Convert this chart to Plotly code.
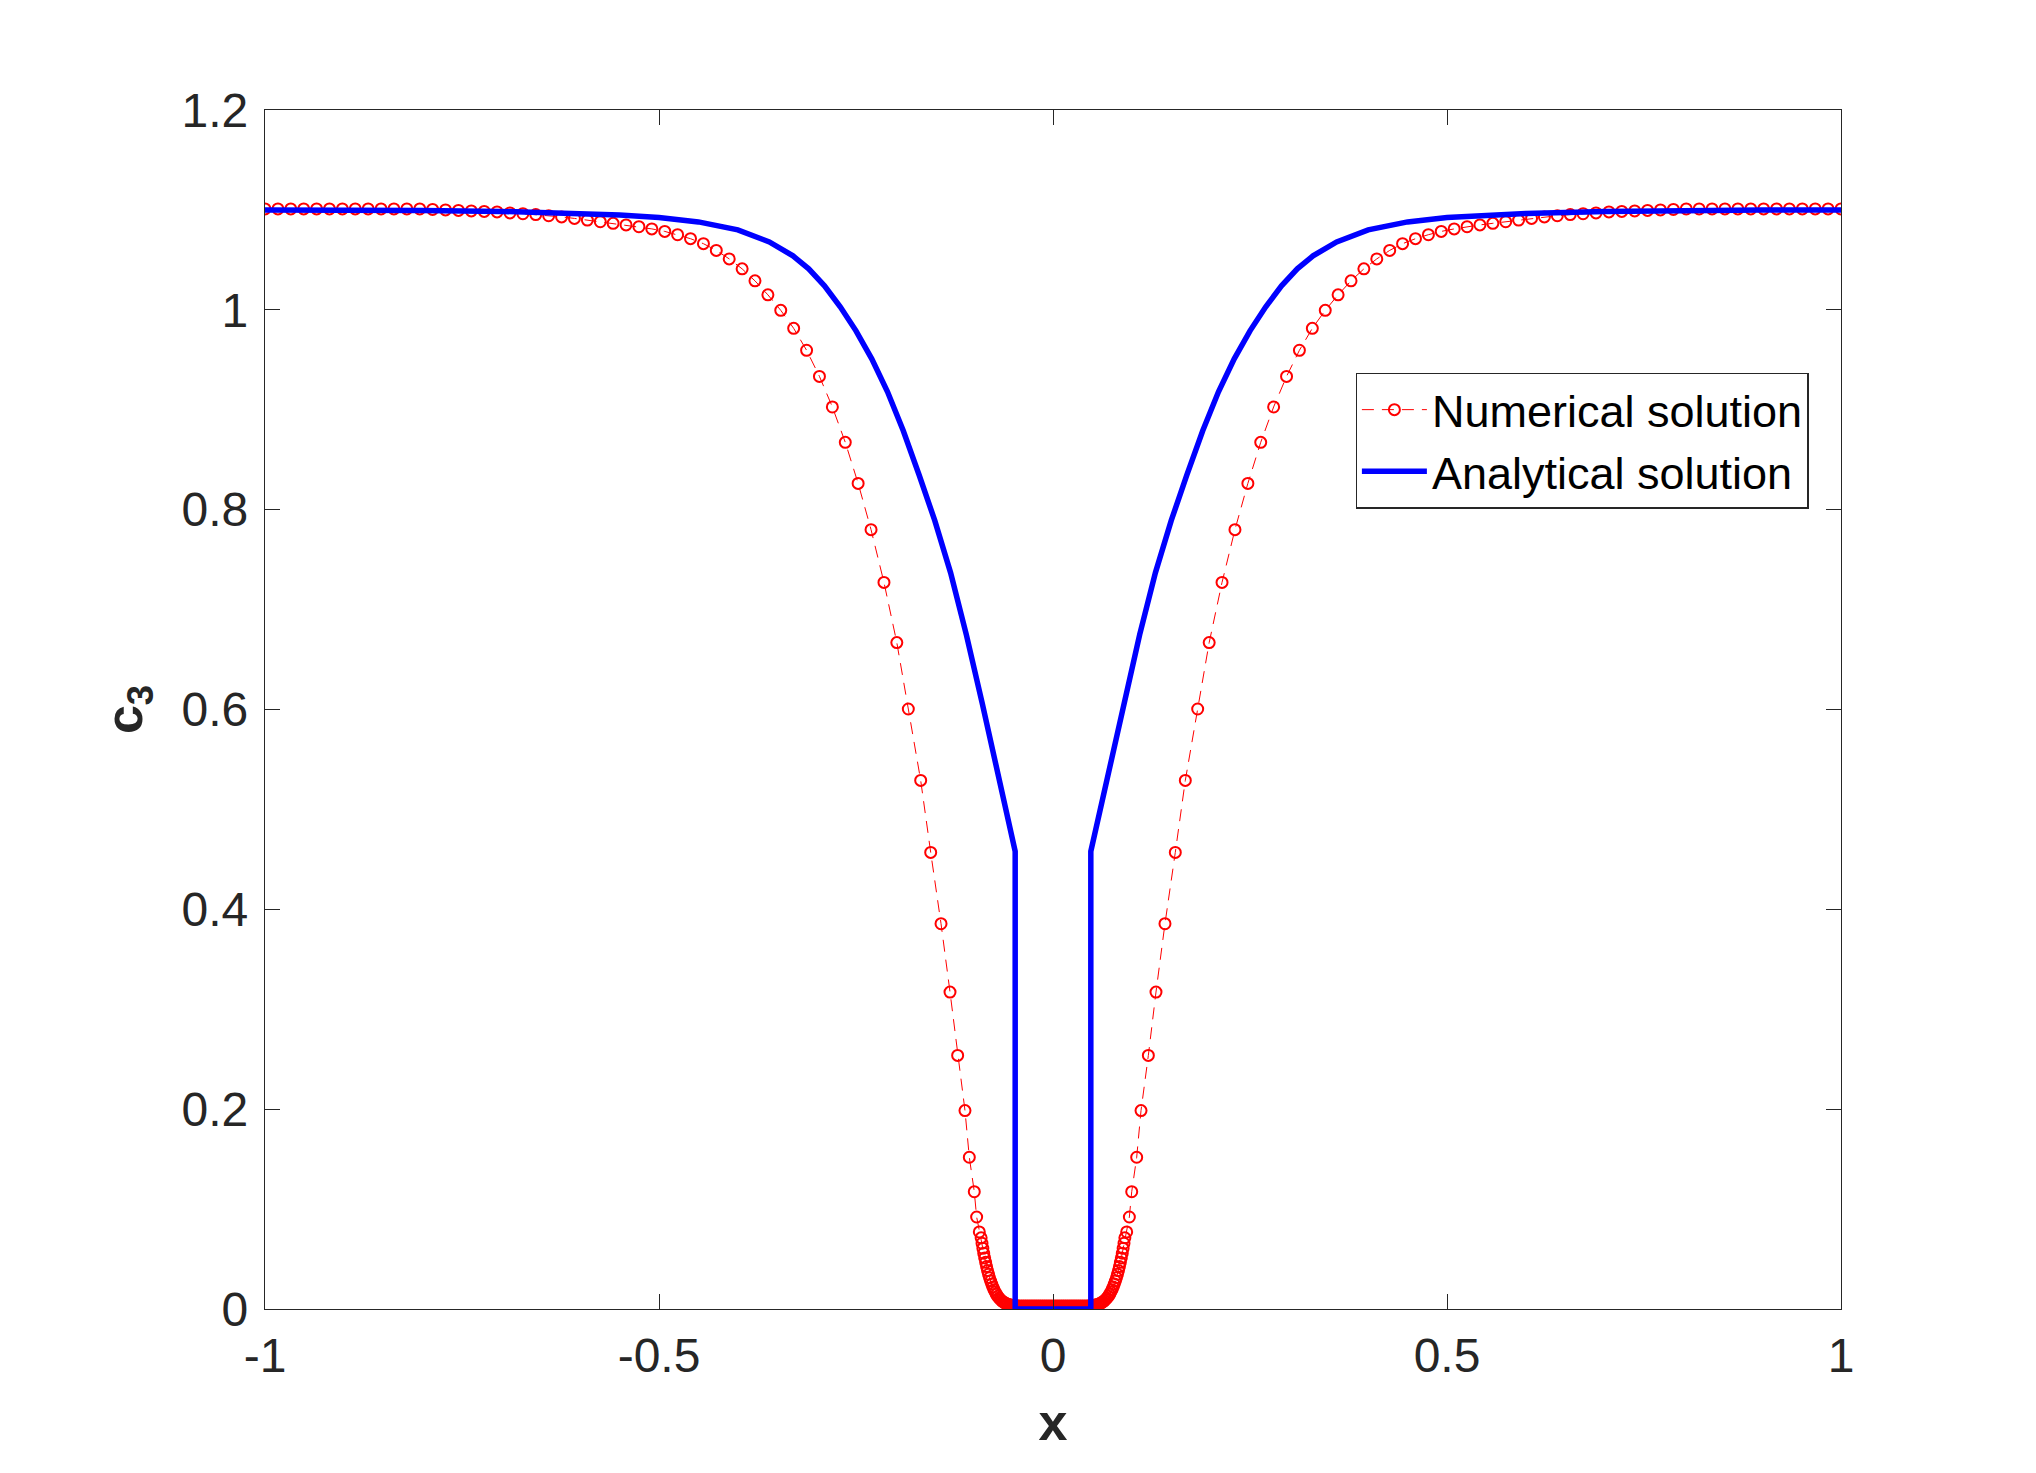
import plotly.graph_objects as go

# ---- Numerical solution (left half; right half is its mirror) ----
num_x_left = [-1.0, -0.9836, -0.9673, -0.9509, -0.9345, -0.9182, -0.9018, -0.8855, -0.8691, -0.8527,
              -0.8364, -0.82, -0.8036, -0.7873, -0.7709, -0.7545, -0.7382, -0.7218, -0.7055, -0.6891,
              -0.6727, -0.6564, -0.64, -0.6236, -0.6073, -0.5909, -0.5745, -0.5582, -0.5418, -0.5255,
              -0.5091, -0.4927, -0.4764, -0.46, -0.4436, -0.4273, -0.4109, -0.3945, -0.3782, -0.3618,
              -0.3455, -0.3291, -0.3127, -0.2964, -0.28, -0.2636, -0.2473, -0.2309, -0.2145, -0.1982,
              -0.1836, -0.1679, -0.1552, -0.1421, -0.1307, -0.121, -0.1117, -0.1062, -0.0999, -0.0969,
              -0.0935,
              -0.0912, -0.0901, -0.089, -0.0879, -0.0867, -0.0855, -0.0843, -0.0831, -0.0818, -0.0805,
              -0.0792, -0.0778, -0.0764, -0.0749, -0.0734, -0.0718, -0.0702, -0.0685, -0.0668, -0.065,
              -0.0632, -0.0613, -0.0594, -0.0574, -0.0554, -0.0533, -0.0512, -0.049, -0.0468, -0.0445,
              -0.0422, -0.0398, -0.0374, -0.035, -0.0326, -0.0302, -0.0278, -0.0254, -0.023, -0.0206,
              -0.0182, -0.0158, -0.0134, -0.011, -0.0086, -0.0062, -0.0038, -0.0014]
num_y_left = [1.101, 1.101, 1.101, 1.101, 1.101, 1.101, 1.101, 1.101, 1.101, 1.101,
              1.101, 1.101, 1.101, 1.1005, 1.100, 1.0995, 1.099, 1.0985, 1.098, 1.097,
              1.0962, 1.0953, 1.0942, 1.093, 1.0915, 1.0898, 1.0882, 1.0866, 1.085, 1.0832,
              1.081, 1.0785, 1.0752, 1.0712, 1.0662, 1.0595, 1.051, 1.041, 1.029, 1.015,
              0.9995, 0.9815, 0.9595, 0.9334, 0.9028, 0.8674, 0.8263, 0.780, 0.7272, 0.667,
              0.6005, 0.529, 0.457, 0.3856, 0.3172, 0.2538, 0.1986, 0.1519, 0.1174, 0.0921,
              0.0771,
              0.0712, 0.0658, 0.0607, 0.0558, 0.0511, 0.0467, 0.0425, 0.0385, 0.0348, 0.0313,
              0.028, 0.0249, 0.022, 0.0193, 0.0169, 0.0147, 0.0127, 0.011, 0.0095, 0.0082,
              0.0071, 0.0062, 0.0054, 0.0048, 0.0043, 0.0039, 0.0036, 0.0034, 0.0032, 0.0031,
              0.003, 0.003, 0.003, 0.003, 0.003, 0.003, 0.003, 0.003, 0.003, 0.003,
              0.003, 0.003, 0.003, 0.003, 0.003, 0.003, 0.003, 0.003]

# ---- Analytical solution (left half) ----
ana_x_left = [-1.0, -0.9, -0.8, -0.7, -0.6, -0.55, -0.5, -0.45, -0.4, -0.36, -0.33, -0.31, -0.29,
              -0.27, -0.25, -0.23, -0.21, -0.19, -0.17, -0.15, -0.13, -0.11, -0.09, -0.07, -0.048,
              -0.048]
ana_y_left = [1.100, 1.100, 1.0995, 1.0985, 1.0965, 1.095, 1.0925, 1.088, 1.080, 1.068, 1.054,
              1.041, 1.024, 1.003, 0.979, 0.951, 0.918, 0.879, 0.835, 0.789, 0.737, 0.675, 0.607,
              0.535, 0.458, 0.0]

x_ticks = [-1, -0.5, 0, 0.5, 1]
x_tick_text = ["-1", "-0.5", "0", "0.5", "1"]
y_ticks = [0, 0.2, 0.4, 0.6, 0.8, 1.0, 1.2]
y_tick_text = ["0", "0.2", "0.4", "0.6", "0.8", "1", "1.2"]

num_x = num_x_left + [-v for v in reversed(num_x_left)]
num_y = num_y_left + list(reversed(num_y_left))
ana_x = ana_x_left + [-v for v in reversed(ana_x_left)]
ana_y = ana_y_left + list(reversed(ana_y_left))

FONT = "Liberation Sans, Arial, Helvetica, sans-serif"
AX = "#262626"

fig = go.Figure()
fig.add_trace(go.Scatter(
    x=num_x, y=num_y, mode="lines+markers", name="Numerical solution",
    line=dict(color="red", width=1, dash="12px,8px"),
    marker=dict(symbol="circle-open", size=11, color="red", line=dict(width=2, color="red")),
))
fig.add_trace(go.Scatter(
    x=ana_x, y=ana_y, mode="lines", name="Analytical solution",
    line=dict(color="#0000ff", width=5.5),
))

axis_common = dict(
    showgrid=False, zeroline=False, showline=True, linecolor=AX, linewidth=1.3,
    mirror="ticks", ticks="inside", ticklen=15, tickwidth=1.3, tickcolor=AX,
    tickfont=dict(family=FONT, size=48, color=AX),
)
fig.update_xaxes(range=[-1, 1], tickvals=x_ticks, ticktext=x_tick_text, ticklabelstandoff=4,
                 title=dict(text="<b>x</b>", font=dict(family=FONT, size=52, color=AX), standoff=22),
                 **axis_common)
fig.update_yaxes(range=[0, 1.2], tickvals=y_ticks, ticktext=y_tick_text, ticklabelstandoff=6,
                 title=dict(text="<b>c<sub>3</sub></b>", font=dict(family=FONT, size=52, color=AX), standoff=22),
                 **axis_common)

fig.update_layout(
    width=2036, height=1473,
    margin=dict(l=265, r=195, t=110, b=164),
    paper_bgcolor="white", plot_bgcolor="white",
    font=dict(family=FONT, color=AX),
    showlegend=True,
    legend=dict(
        x=0.692, y=0.781, xanchor="left", yanchor="top",
        bgcolor="white", bordercolor=AX, borderwidth=1.3,
        font=dict(family=FONT, size=45, color="black"),
        tracegroupgap=0, itemwidth=65,
    ),
)

fig.write_html("out.html")
